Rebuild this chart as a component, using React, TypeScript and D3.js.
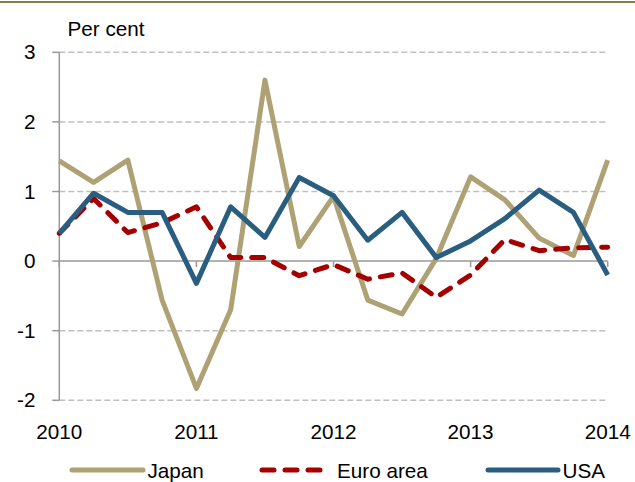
import React from "react";
import * as d3 from "d3";

const quarters: number[] = d3.range(0, 17).map((i) => 2010 + i / 4);
const yearTicks: number[] = [2010, 2011, 2012, 2013, 2014];
const yTicks: number[] = [-2, -1, 0, 1, 2, 3];

const japan: number[] = [1.44, 1.13, 1.45, -0.56, -1.83, -0.7, 2.6, 0.21, 0.93, -0.56, -0.76, 0.04, 1.21, 0.88, 0.33, 0.08, 1.45];
const euro: number[] = [0.4, 0.9, 0.41, 0.55, 0.78, 0.05, 0.05, -0.21, -0.05, -0.26, -0.17, -0.52, -0.2, 0.31, 0.15, 0.19, 0.2];
const usa: number[] = [0.4, 0.975, 0.7, 0.7, -0.32, 0.78, 0.34, 1.2, 0.94, 0.3, 0.7, 0.05, 0.29, 0.61, 1.02, 0.7, -0.2];

const seriesNames: string[] = ["Japan", "Euro area", "USA"];
const colors: string[] = ["#AEA173", "#A50000", "#2A5E81"];

const W = 635;
const H = 482;
const FONT = "'Liberation Sans', Arial, sans-serif";
const FS = 20.7;

export default function App() {
  const x = d3.scaleLinear().domain([2010, 2014]).range([59.3, 607.7]);
  const y = d3.scaleLinear().domain([-2, 3]).range([400.3, 52.3]);
  const line = d3
    .line<number>()
    .x((_, i) => x(quarters[i]))
    .y((d) => y(d));

  const data = [japan, euro, usa];
  const drawOrder = [0, 1, 2];

  const legendItems = [
    { x1: 72, x2: 143, tx: 147.5 },
    { x1: 262, x2: 322, tx: 337 },
    { x1: 488, x2: 558, tx: 562.5 },
  ];

  return (
    <svg
      width={W}
      height={H}
      style={{ position: "absolute", left: 0, top: 0, background: "#fff" }}
      fontFamily={FONT}
    >
      <rect x={0} y={1} width={W} height={2} fill="#8B7B50" />
      <text x={67.5} y={36} fontSize={FS} fill="#000">
        Per cent
      </text>

      {yTicks
        .filter((t) => t !== 0)
        .map((t) => (
          <line
            key={"g" + t}
            x1={x(2010)}
            x2={x(2014)}
            y1={y(t)}
            y2={y(t)}
            stroke="#C0C0C0"
            strokeWidth={1.5}
            strokeDasharray="6 3"
          />
        ))}
      {yTicks.map((t) => (
        <line
          key={"yt" + t}
          x1={x(2010) - 7}
          x2={x(2010)}
          y1={y(t)}
          y2={y(t)}
          stroke="#999"
          strokeWidth={1.5}
        />
      ))}
      <line x1={x(2010)} x2={x(2010)} y1={y(3)} y2={y(-2)} stroke="#999" strokeWidth={1.5} />
      <line x1={x(2010)} x2={x(2014)} y1={y(0)} y2={y(0)} stroke="#999" strokeWidth={1.5} />
      {yearTicks.map((t) => (
        <line
          key={"xt" + t}
          x1={x(t)}
          x2={x(t)}
          y1={y(0)}
          y2={y(0) + 6}
          stroke="#999"
          strokeWidth={1.5}
        />
      ))}

      {yTicks.map((t) => (
        <text key={"yl" + t} x={35.5} y={y(t) + 7} fontSize={FS} textAnchor="end" fill="#000">
          {t}
        </text>
      ))}
      {yearTicks.map((t) => (
        <text key={"xl" + t} x={x(t)} y={439} fontSize={FS} textAnchor="middle" fill="#000">
          {t}
        </text>
      ))}

      {drawOrder.map((k) => (
        <path
          key={"s" + k}
          d={line(data[k]) || ""}
          fill="none"
          stroke={colors[k]}
          strokeWidth={5}
          strokeLinejoin="round"
          strokeLinecap={k === 1 ? "round" : "butt"}
          strokeDasharray={k === 1 ? "12 11" : undefined}
        />
      ))}

      {legendItems.map((it, k) => (
        <g key={"lg" + k}>
          <line
            x1={it.x1}
            x2={it.x2}
            y1={470}
            y2={470}
            stroke={colors[k]}
            strokeWidth={5}
            strokeLinecap="round"
            strokeDasharray={k === 1 ? "12 11" : undefined}
          />
          <text x={it.tx} y={477.5} fontSize={FS} fill="#000">
            {seriesNames[k]}
          </text>
        </g>
      ))}
    </svg>
  );
}
